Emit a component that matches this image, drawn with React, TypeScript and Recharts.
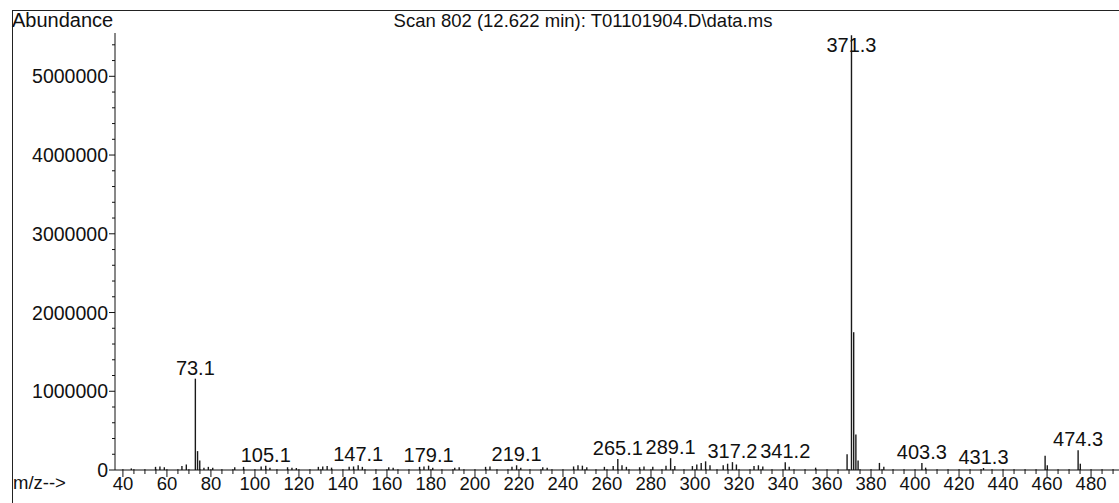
import { BarChart, Bar, XAxis, YAxis, LabelList } from 'recharts'

// m/z of each stick in the scan
const MZ = [
  44, 55, 57, 59, 67, 69, 73.1, 74.1, 75.1, 77, 79, 81, 91, 95, 103, 105.1, 107, 115, 117, 119,
  129, 131, 133, 135, 143, 145, 147.1, 149, 161, 163, 175, 177, 179.1, 181, 191, 193, 205, 207,
  217, 219.1, 221, 231, 233, 245, 247, 249, 251, 259, 263, 265.1, 267, 269, 275, 277, 281, 287,
  289.1, 291, 299, 301, 303, 305, 307, 313, 315, 317.2, 319, 327, 329, 331, 341.2, 343, 355,
  369.3, 371.3, 372.3, 373.3, 374.3, 384, 386, 403.3, 405, 431.3, 459.3, 460.3, 474.3, 475.3,
]

// abundance of each stick
const ABUNDANCE = [
  20000, 40000, 45000, 35000, 50000, 70000, 1160000, 240000, 120000, 30000, 40000, 30000, 35000,
  40000, 45000, 55000, 30000, 35000, 30000, 25000, 40000, 45000, 50000, 30000, 40000, 45000,
  60000, 40000, 35000, 30000, 40000, 45000, 55000, 30000, 30000, 35000, 40000, 45000, 40000,
  60000, 30000, 35000, 30000, 45000, 60000, 55000, 35000, 40000, 50000, 140000, 60000, 40000,
  35000, 45000, 40000, 55000, 150000, 50000, 50000, 70000, 90000, 110000, 60000, 60000, 80000,
  100000, 70000, 50000, 60000, 45000, 100000, 40000, 30000, 200000, 5520000, 1750000, 450000,
  120000, 90000, 40000, 90000, 30000, 25000, 180000, 60000, 250000, 80000,
]

// peaks that carry an m/z label
const LABELED = [73.1, 105.1, 147.1, 179.1, 219.1, 265.1, 289.1, 317.2, 341.2, 371.3, 403.3, 431.3, 474.3]

const X_MAJOR = [40, 60, 80, 100, 120, 140, 160, 180, 200, 220, 240, 260, 280, 300, 320, 340, 360, 380, 400, 420, 440, 460, 480]
const Y_MAJOR = [0, 1000000, 2000000, 3000000, 4000000, 5000000]

const TITLE = 'Scan 802 (12.622 min): T01101904.D\\data.ms'

const FONT = '"Liberation Sans", Arial, sans-serif'

const data = MZ.map((mz, i) => ({
  mz,
  abundance: ABUNDANCE[i],
  label: LABELED.includes(mz) ? mz.toFixed(1) : '',
}))

const xTicks: number[] = []
for (let v = 40; v <= 490; v += 5) xTicks.push(v)
const yTicks: number[] = []
for (let v = 0; v <= 5400000; v += 200000) yTicks.push(v)

function XTick({ x, y, payload }: any) {
  const major = X_MAJOR.includes(payload.value)
  return (
    <g>
      <line x1={x} x2={x} y1={y - 1} y2={y + (major ? 7 : 4)} stroke="#111" strokeWidth={1} />
      {major && (
        <text x={x} y={y + 20} textAnchor="middle" fontSize={18.5} fontFamily={FONT} fill="#111">
          {payload.value}
        </text>
      )}
    </g>
  )
}

function YTick({ x, y, payload }: any) {
  const major = Y_MAJOR.includes(payload.value)
  return (
    <g>
      <line x1={x - (major ? 6 : 3)} x2={x} y1={y} y2={y} stroke="#111" strokeWidth={1} />
      {major && (
        <text x={x - 7} y={y + 7} textAnchor="end" fontSize={19.5} fontFamily={FONT} fill="#111">
          {payload.value}
        </text>
      )}
    </g>
  )
}

function PeakLabel({ x, y, width, value }: any) {
  if (!value) return null
  const ty = Math.max(y - 4, 52)
  return (
    <text x={x + width / 2} y={ty} textAnchor="middle" fontSize={20} fontFamily={FONT} fill="#111">
      {value}
    </text>
  )
}

export default function App() {
  return (
    <div style={{ position: 'absolute', left: 0, top: 0, width: 1119, height: 503, background: '#fff', fontFamily: FONT }}>
      <div style={{ position: 'absolute', left: 12, top: 10, right: 0, bottom: 0, borderLeft: '1px solid #222', borderTop: '1px solid #222' }} />
      <div style={{ position: 'absolute', left: 12, top: 9, fontSize: 20, color: '#111' }}>Abundance</div>
      <div style={{ position: 'absolute', left: 0, width: 1166, top: 10, textAlign: 'center', fontSize: 18.5, color: '#111', whiteSpace: 'nowrap' }}>
        {TITLE}
      </div>
      <div style={{ position: 'absolute', left: 13, top: 472, fontSize: 18.5, color: '#111' }}>m/z--&gt;</div>
      <BarChart
        width={1119}
        height={503}
        data={data}
        margin={{ top: 33, right: 0, left: 15, bottom: 0 }}
        style={{ position: 'absolute', left: 0, top: 0 }}
      >
        <XAxis
          dataKey="mz"
          type="number"
          domain={[36.4, 492.7]}
          allowDataOverflow
          ticks={xTicks}
          interval={0}
          tickSize={0}
          tickMargin={0}
          tick={<XTick />}
          height={33}
          axisLine={{ stroke: '#111' }}
        />
        <YAxis
          type="number"
          domain={[0, 5550000]}
          allowDataOverflow
          ticks={yTicks}
          interval={0}
          tickSize={0}
          tickMargin={0}
          tick={<YTick />}
          width={100}
          axisLine={{ stroke: '#111' }}
        />
        <Bar dataKey="abundance" fill="#1a1a1a" barSize={1.4} isAnimationActive={false}>
          <LabelList dataKey="label" content={<PeakLabel />} />
        </Bar>
      </BarChart>
    </div>
  )
}
